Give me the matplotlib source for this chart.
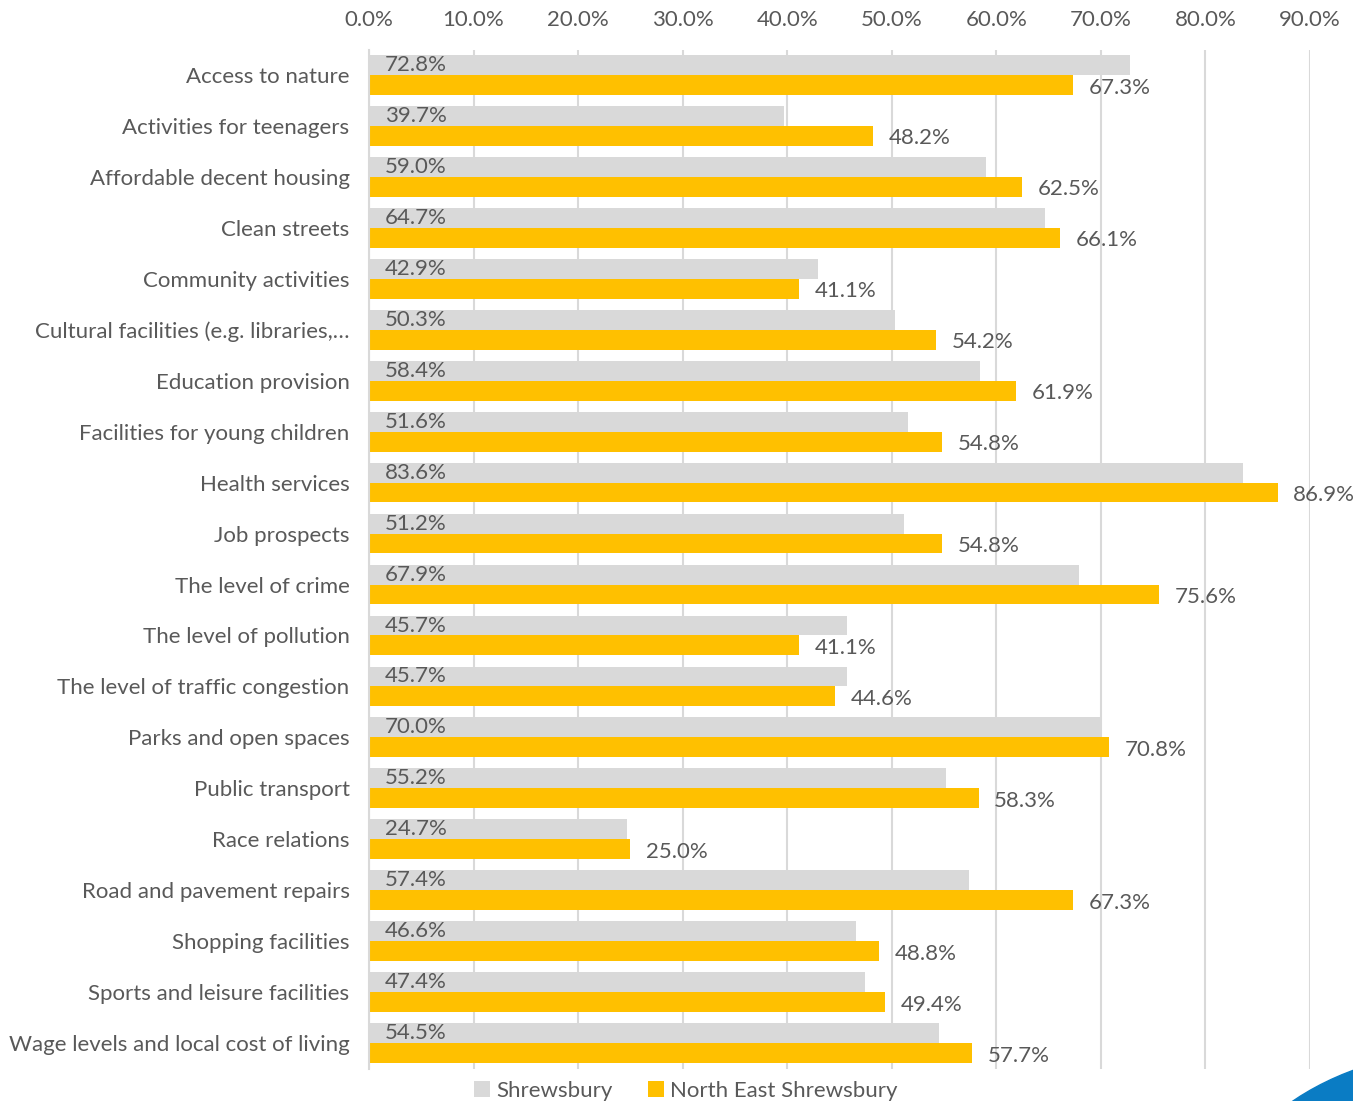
import matplotlib
matplotlib.use("Agg")
import matplotlib.pyplot as plt
from matplotlib.patches import Ellipse
from matplotlib.ticker import FuncFormatter, MultipleLocator
import numpy as np

# survey categories and the share for each area
categories = [
    "Access to nature", "Activities for teenagers", "Affordable decent housing",
    "Clean streets", "Community activities", "Cultural facilities (e.g. libraries,\u2026",
    "Education provision", "Facilities for young children", "Health services",
    "Job prospects", "The level of crime", "The level of pollution",
    "The level of traffic congestion", "Parks and open spaces", "Public transport",
    "Race relations", "Road and pavement repairs", "Shopping facilities",
    "Sports and leisure facilities", "Wage levels and local cost of living",
]
shrewsbury = [72.8, 39.7, 59.0, 64.7, 42.9, 50.3, 58.4, 51.6, 83.6, 51.2,
              67.9, 45.7, 45.7, 70.0, 55.2, 24.7, 57.4, 46.6, 47.4, 54.5]
ne_shrewsbury = [67.3, 48.2, 62.5, 66.1, 41.1, 54.2, 61.9, 54.8, 86.9, 54.8,
                 75.6, 41.1, 44.6, 70.8, 58.3, 25.0, 67.3, 48.8, 49.4, 57.7]

grey = "#d9d9d9"
gold = "#ffc000"
txt = "#595959"
plt.rcParams['font.family'] = ['Lato', 'DejaVu Sans']
fs = 16

fig = plt.figure(figsize=(13.53, 11.01), dpi=100)
ax = fig.add_axes([0.2727, 0.0295, 0.6955, 0.9255])

y = np.arange(len(categories))
h = 0.39
ax.barh(y - h / 2, shrewsbury, height=h, color=grey, label="Shrewsbury", zorder=2)
ax.barh(y + h / 2, ne_shrewsbury, height=h, color=gold, label="North East Shrewsbury", zorder=2)

for i in range(len(categories)):
    ax.text(1.5, y[i] - h / 2, f"{shrewsbury[i]:.1f}%", va="center", ha="left",
            fontsize=fs, color=txt, zorder=3)
    ax.text(ne_shrewsbury[i] + 1.5, y[i] + h / 2 + 0.05, f"{ne_shrewsbury[i]:.1f}%",
            va="center", ha="left", fontsize=fs, color=txt, zorder=3)

ax.set_xlim(0, 90)
ax.set_ylim(len(categories) - 0.5, -0.5)
ax.xaxis.set_major_locator(MultipleLocator(10))
ax.xaxis.set_major_formatter(FuncFormatter(lambda v, p: f"{v:.1f}%"))
ax.xaxis.tick_top()
ax.set_yticks(y)
ax.set_yticklabels(categories)
ax.tick_params(axis="x", length=0, labelsize=fs, labelcolor=txt, pad=14)
ax.tick_params(axis="y", length=0, labelsize=fs, labelcolor=txt, pad=14)
ax.grid(axis="x", color="#d9d9d9", linewidth=1.5, zorder=0)
for s in ["top", "right", "bottom"]:
    ax.spines[s].set_visible(False)
ax.spines["left"].set_color("#d9d9d9")
ax.spines["left"].set_linewidth(1.5)

fig.legend(loc="lower center", bbox_to_anchor=(0.507, -0.018), ncol=2, frameon=False,
           fontsize=fs, labelcolor=txt, handlelength=0.7, handleheight=0.7,
           handletextpad=0.3, columnspacing=1.6)

# blue swoosh in the corner
fig.add_artist(Ellipse((1.0865, -0.1262), 0.384, 0.345, color="#0a7cc4",
                       transform=fig.transFigure, zorder=5))

fig.savefig("out.png", dpi=100)
